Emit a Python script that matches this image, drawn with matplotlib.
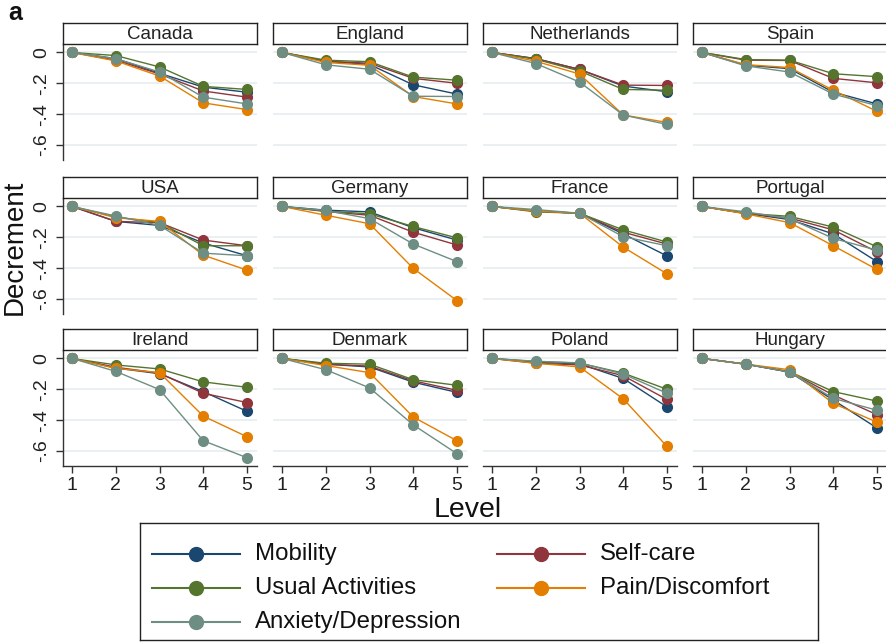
import matplotlib
matplotlib.use("Agg")
import matplotlib.pyplot as plt
from matplotlib.lines import Line2D

plt.rcParams['font.family'] = ['Liberation Sans', 'DejaVu Sans']

levels = [1, 2, 3, 4, 5]
countries = ["Canada", "England", "Netherlands", "Spain",
             "USA", "Germany", "France", "Portugal",
             "Ireland", "Denmark", "Poland", "Hungary"]

mobility = {
    "Canada":      [0, -0.04, -0.135, -0.225, -0.258],
    "England":     [0, -0.057, -0.078, -0.21, -0.27],
    "Netherlands": [0, -0.04, -0.11, -0.218, -0.255],
    "Spain":       [0, -0.083, -0.105, -0.258, -0.334],
    "USA":         [0, -0.097, -0.123, -0.237, -0.32],
    "Germany":     [0, -0.024, -0.035, -0.138, -0.218],
    "France":      [0, -0.03, -0.044, -0.178, -0.321],
    "Portugal":    [0, -0.045, -0.085, -0.178, -0.358],
    "Ireland":     [0, -0.062, -0.099, -0.215, -0.343],
    "Denmark":     [0, -0.037, -0.055, -0.154, -0.22],
    "Poland":      [0, -0.024, -0.035, -0.13, -0.314],
    "Hungary":     [0, -0.037, -0.088, -0.27, -0.451],
}
self_care = {
    "Canada":      [0, -0.05, -0.14, -0.25, -0.29],
    "England":     [0, -0.057, -0.07, -0.168, -0.20],
    "Netherlands": [0, -0.04, -0.11, -0.212, -0.214],
    "Spain":       [0, -0.05, -0.052, -0.168, -0.197],
    "USA":         [0, -0.097, -0.105, -0.218, -0.255],
    "Germany":     [0, -0.033, -0.057, -0.167, -0.25],
    "France":      [0, -0.03, -0.044, -0.167, -0.244],
    "Portugal":    [0, -0.045, -0.075, -0.152, -0.295],
    "Ireland":     [0, -0.057, -0.095, -0.226, -0.286],
    "Denmark":     [0, -0.037, -0.05, -0.145, -0.207],
    "Poland":      [0, -0.031, -0.042, -0.112, -0.266],
    "Hungary":     [0, -0.037, -0.088, -0.237, -0.365],
}
usual_activities = {
    "Canada":      [0, -0.02, -0.094, -0.22, -0.24],
    "England":     [0, -0.05, -0.06, -0.16, -0.18],
    "Netherlands": [0, -0.044, -0.12, -0.24, -0.245],
    "Spain":       [0, -0.046, -0.05, -0.138, -0.157],
    "USA":         [0, -0.068, -0.105, -0.255, -0.255],
    "Germany":     [0, -0.03, -0.048, -0.13, -0.204],
    "France":      [0, -0.035, -0.044, -0.152, -0.231],
    "Portugal":    [0, -0.045, -0.064, -0.134, -0.262],
    "Ireland":     [0, -0.042, -0.068, -0.152, -0.187],
    "Denmark":     [0, -0.031, -0.037, -0.138, -0.174],
    "Poland":      [0, -0.02, -0.03, -0.095, -0.20],
    "Hungary":     [0, -0.037, -0.085, -0.215, -0.277],
}
pain_discomfort = {
    "Canada":      [0, -0.055, -0.153, -0.327, -0.371],
    "England":     [0, -0.065, -0.083, -0.286, -0.334],
    "Netherlands": [0, -0.057, -0.14, -0.406, -0.454],
    "Spain":       [0, -0.079, -0.098, -0.245, -0.382],
    "USA":         [0, -0.073, -0.097, -0.316, -0.413],
    "Germany":     [0, -0.057, -0.112, -0.402, -0.611],
    "France":      [0, -0.03, -0.044, -0.264, -0.437],
    "Portugal":    [0, -0.048, -0.105, -0.255, -0.409],
    "Ireland":     [0, -0.064, -0.092, -0.374, -0.508],
    "Denmark":     [0, -0.046, -0.092, -0.38, -0.534],
    "Poland":      [0, -0.031, -0.055, -0.262, -0.571],
    "Hungary":     [0, -0.037, -0.073, -0.292, -0.413],
}
anxiety_depression = {
    "Canada":      [0, -0.04, -0.127, -0.29, -0.334],
    "England":     [0, -0.08, -0.109, -0.284, -0.286],
    "Netherlands": [0, -0.072, -0.192, -0.406, -0.467],
    "Spain":       [0, -0.087, -0.127, -0.27, -0.345],
    "USA":         [0, -0.062, -0.123, -0.303, -0.32],
    "Germany":     [0, -0.026, -0.079, -0.244, -0.358],
    "France":      [0, -0.02, -0.044, -0.196, -0.255],
    "Portugal":    [0, -0.035, -0.079, -0.207, -0.284],
    "Ireland":     [0, -0.084, -0.202, -0.534, -0.644],
    "Denmark":     [0, -0.073, -0.191, -0.431, -0.618],
    "Poland":      [0, -0.018, -0.029, -0.101, -0.226],
    "Hungary":     [0, -0.037, -0.088, -0.259, -0.336],
}

series = [
    ("Mobility", mobility, "#1a476f"),
    ("Self-care", self_care, "#90353b"),
    ("Usual Activities", usual_activities, "#55752f"),
    ("Pain/Discomfort", pain_discomfort, "#e37e00"),
    ("Anxiety/Depression", anxiety_depression, "#6e8e84"),
]

y_ticks = [0, -0.2, -0.4, -0.6]
y_tick_labels = ["0", "-.2", "-.4", "-.6"]

W, H = 887, 642
fig = plt.figure(figsize=(W / 100, H / 100), dpi=100)


def px_rect(x, y, w, h):
    return [x / W, 1 - (y + h) / H, w / W, h / H]


col_left = [63, 273, 483, 693]
row_top = [44, 198, 350]
panel_w, plot_h, strip_h = 194, 116, 21
grid_color = "#e6eef0"
axis_color = "#333333"

for i, country in enumerate(countries):
    r, c = divmod(i, 4)
    x0, y0 = col_left[c], row_top[r]
    ax = fig.add_axes(px_rect(x0, y0, panel_w, plot_h))
    ax.set_xlim(0.79, 5.23)
    ax.set_ylim(-0.698, 0.055)
    for yv in y_ticks:
        ax.axhline(yv, color=grid_color, lw=1.2, zorder=0)
    for name, data, color in series:
        ax.plot(levels, data[country], color=color, lw=1.0, marker="o",
                markersize=7, zorder=3, clip_on=False)
    for side in ("top", "right"):
        ax.spines[side].set_visible(False)
    ax.spines["left"].set_visible(c == 0)
    ax.spines["bottom"].set_visible(r == 2)
    ax.spines["left"].set_color(axis_color)
    ax.spines["bottom"].set_color(axis_color)
    ax.spines["left"].set_linewidth(1.0)
    ax.spines["bottom"].set_linewidth(1.0)
    ax.set_yticks(y_ticks)
    ax.set_xticks(levels)
    if c == 0:
        ax.set_yticklabels(y_tick_labels, rotation=90, va="center",
                           fontsize=14, color="#222222")
        ax.tick_params(axis="y", length=5, width=1.0, color=axis_color, pad=4)
    else:
        ax.tick_params(axis="y", left=False, labelleft=False)
    if r == 2:
        ax.set_xticklabels([str(v) for v in levels], fontsize=14,
                           color="#222222")
        ax.tick_params(axis="x", length=5, width=1.0, color=axis_color, pad=3)
    else:
        ax.tick_params(axis="x", bottom=False, labelbottom=False)
    ax.set_facecolor("white")

    # strip with country name
    sax = fig.add_axes(px_rect(x0, y0 - strip_h, panel_w, strip_h))
    sax.set_xticks([])
    sax.set_yticks([])
    for sp in sax.spines.values():
        sp.set_color("#222222")
        sp.set_linewidth(1.0)
    sax.text(0.5, 0.47, country, ha="center", va="center", fontsize=13.5,
             color="#222222", transform=sax.transAxes)

fig.text(15 / W, 1 - 247 / H, "Decrement", rotation=90, ha="center",
         va="center", fontsize=20, color="#111111")
fig.text(468 / W, 1 - 510 / H, "Level", ha="center", va="center",
         fontsize=20.5, color="#111111")
fig.text(8 / W, 1 - 13 / H, "a", ha="left", va="center", fontsize=18,
         fontweight="bold", color="#111111")

# legend box
lx, ly, lw_, lh = 140, 523, 678, 117
lax = fig.add_axes(px_rect(lx, ly, lw_, lh))
lax.set_xlim(0, lw_)
lax.set_ylim(lh, 0)
lax.set_xticks([])
lax.set_yticks([])
for sp in lax.spines.values():
    sp.set_color("#222222")
    sp.set_linewidth(1.0)
slots = [(12, 31), (357, 31), (12, 65), (357, 65), (12, 99)]
for (name, data, color), (sx, sy) in zip(series, slots):
    lax.add_line(Line2D([sx, sx + 88], [sy, sy], color=color, lw=1.5))
    lax.add_line(Line2D([sx + 44], [sy], color=color, marker="o",
                        markersize=10, lw=0))
    lax.text(sx + 103, sy, name, ha="left", va="center", fontsize=17.3,
             color="#111111")

fig.savefig("out.png", dpi=100)
